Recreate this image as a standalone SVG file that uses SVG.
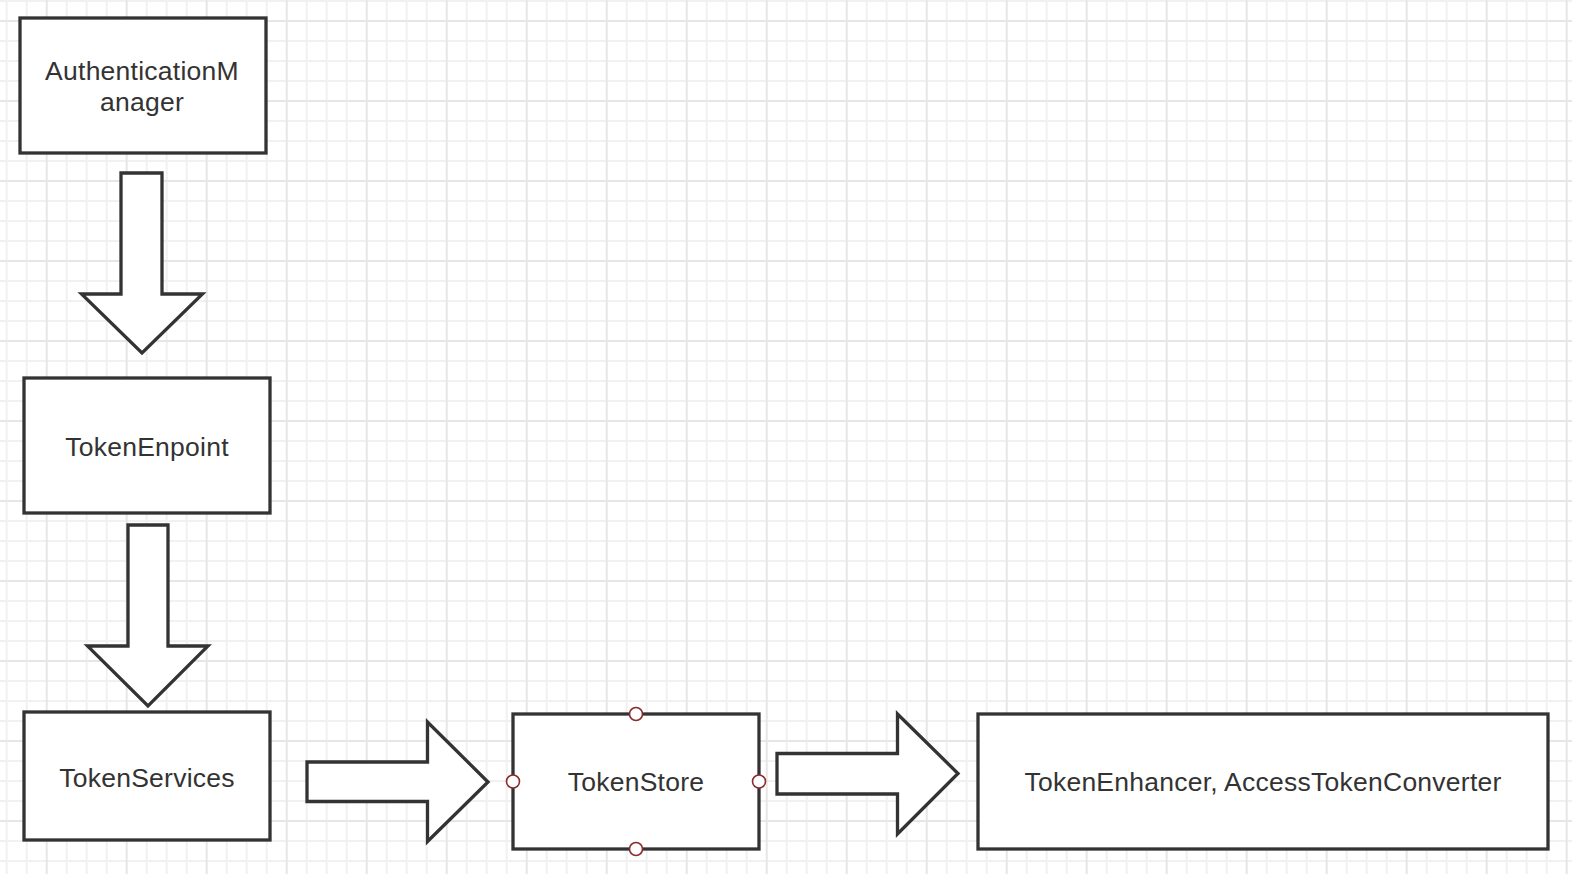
<svg xmlns="http://www.w3.org/2000/svg" width="1572" height="874" viewBox="0 0 1572 874">
<style>
.box{fill:#fff;stroke:#333;stroke-width:3.3}
.arrow{fill:#fff;stroke:#333;stroke-width:3.3;stroke-linejoin:miter}
.lbl{font-family:"Liberation Sans",Arial,sans-serif;font-size:26.5px;letter-spacing:0.25px;fill:#333;text-anchor:middle}
.pt{fill:#fff;stroke:#8b2c2c;stroke-width:1.6}
</style>
<defs>
<pattern id="grid" patternUnits="userSpaceOnUse" x="-3.3" y="-9" width="80" height="80">
<g stroke="#f1f1f1" stroke-width="2">
<line x1="10" y1="0" x2="10" y2="80"/><line x1="30" y1="0" x2="30" y2="80"/><line x1="70" y1="0" x2="70" y2="80"/>
<line x1="0" y1="10" x2="80" y2="10"/><line x1="0" y1="50" x2="80" y2="50"/><line x1="0" y1="70" x2="80" y2="70"/>
</g>
<g stroke="#e6e6e6" stroke-width="2">
<line x1="50" y1="0" x2="50" y2="80"/>
<line x1="0" y1="30" x2="80" y2="30"/>
</g>
</pattern>
</defs>
<rect width="1572" height="874" fill="#fff"/>
<rect width="1572" height="874" fill="url(#grid)"/>

<g id="connectors">
<polygon class="arrow" points="121,173 162,173 162,294 202.5,294 142,353 81.5,294 121,294"/>
<polygon class="arrow" points="128,525 168,525 168,646 208,646 148,706 87.5,646 128,646"/>
<polygon class="arrow" points="307,762 427.5,762 427.5,722 488,782 427.5,841.5 427.5,801.5 307,801.5"/>
<polygon class="arrow" points="777,753.5 897.5,753.5 897.5,714 958,773.5 897.5,834 897.5,794 777,794"/>
</g>

<g id="authManager">
<rect class="box" x="20" y="18" width="246" height="135"/>
<text class="lbl" x="142" y="80">AuthenticationM</text>
<text class="lbl" x="142" y="111">anager</text>
</g>

<g id="tokenEndpoint">
<rect class="box" x="24" y="378" width="246" height="135"/>
<text class="lbl" x="147" y="456">TokenEnpoint</text>
</g>

<g id="tokenServices">
<rect class="box" x="24" y="712" width="246" height="128"/>
<text class="lbl" x="147" y="787">TokenServices</text>
</g>

<g id="tokenStore">
<rect class="box" x="513" y="714" width="246" height="135"/>
<text class="lbl" x="636" y="791">TokenStore</text>
<circle class="pt" cx="636" cy="714" r="6.5"/>
<circle class="pt" cx="636" cy="849" r="6.5"/>
<circle class="pt" cx="513" cy="781.5" r="6.5"/>
<circle class="pt" cx="759" cy="781.5" r="6.5"/>
</g>

<g id="tokenEnhancer">
<rect class="box" x="978" y="714" width="570" height="135"/>
<text class="lbl" x="1263" y="791">TokenEnhancer, AccessTokenConverter</text>
</g>
</svg>
